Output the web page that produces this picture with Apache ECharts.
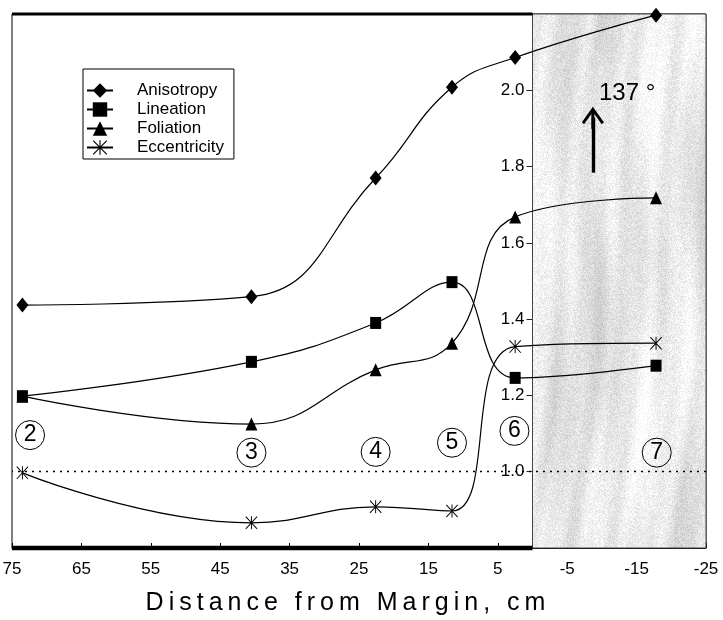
<!DOCTYPE html>
<html><head><meta charset="utf-8">
<script src="https://cdn.jsdelivr.net/npm/echarts@6/dist/echarts.min.js"></script>
<style>html,body{margin:0;padding:0;background:#fff}#c{width:723px;height:620px}</style>
</head><body><div id="c"></div>
<script>
// ---- data ----
const distances    = [73.5, 40.5, 22.6, 11.6, 2.5, -17.8];
const anisotropy   = [1.437, 1.459, 1.770, 2.008, 2.086, 2.197];
const lineation    = [1.198, 1.288, 1.390, 1.497, 1.246, 1.278];
const foliation    = [1.198, 1.125, 1.267, 1.337, 1.668, 1.718];
const eccentricity = [0.997, 0.866, 0.908, 0.897, 1.328, 1.337];
const siteLabels = ['2', '3', '4', '5', '6', '7'];
const siteX      = [72.4, 40.5, 22.6, 11.6, 2.6, -17.9];
const siteY      = [1.096, 1.050, 1.052, 1.076, 1.107, 1.050];
const seriesNames = ['Anisotropy', 'Lineation', 'Foliation', 'Eccentricity'];
const xTitle = 'Distance from Margin, cm';
const angleText = '137 °';

const FONT = '"Liberation Sans", Arial, sans-serif';

// letter-spaced axis title only (canvas letterSpacing, state saved/restored)
(function () {
  const orig = CanvasRenderingContext2D.prototype.fillText;
  CanvasRenderingContext2D.prototype.fillText = function (t, x, y, m) {
    if (t === xTitle && 'letterSpacing' in this) {
      this.save();
      this.letterSpacing = '5px';
      orig.call(this, t, x, y);
      this.restore();
      return;
    }
    return m === undefined ? orig.call(this, t, x, y) : orig.call(this, t, x, y, m);
  };
})();

function makeTexture(w, h) {
  const c = document.createElement('canvas'); c.width = w; c.height = h;
  const ctx = c.getContext('2d');
  const img = ctx.createImageData(w, h);
  const d = img.data;
  for (let y = 0; y < h; y++) {
    for (let x = 0; x < w; x++) {
      const xs = x + y * 0.06 + 6 * Math.sin(y * 0.013);
      let v = 232 + 6 * Math.sin(xs * 0.173) + 7 * Math.sin(xs * 0.047 + 1.3)
            + 4 * Math.sin(xs * 0.31 + y * 0.009) + 7 * Math.sin(y * 0.017 + xs * 0.029)
            + 5 * Math.sin(xs * 0.11 - y * 0.021);
      const hs = Math.sin(x * 12.9898 + y * 78.233) * 43758.5453;
      v += ((hs - Math.floor(hs)) - 0.5) * 34;
      v = Math.max(175, Math.min(255, v));
      const i = (y * w + x) * 4;
      d[i] = d[i + 1] = d[i + 2] = v; d[i + 3] = 255;
    }
  }
  ctx.putImageData(img, 0, 0);
  return c;
}

const asteriskPath = 'path://M9.2,0L10.8,0L10.8,20L9.2,20Z M0,1.1L1.1,0L20,18.9L18.9,20Z M18.9,0L20,1.1L1.1,20L0,18.9Z';
const arrowPath = 'path://M10,0L20,14L18,16L11.4,6.5L11.4,20L8.6,20L8.6,6.5L2,16L0,14Z';

const symbols = [
  { symbol: 'diamond', size: [12, 15] },
  { symbol: 'rect', size: [11, 12] },
  { symbol: 'triangle', size: [12, 13] },
  { symbol: asteriskPath, size: [12, 13] }
];
const values = [anisotropy, lineation, foliation, eccentricity];

const chart = echarts.init(document.getElementById('c'), null, { renderer: 'canvas' });

const lineSeries = seriesNames.map((name, k) => ({
  name, type: 'line', smooth: 0.45,
  data: distances.map((x, i) => [x, values[k][i]]),
  symbol: symbols[k].symbol, symbolSize: symbols[k].size,
  showAllSymbol: true,
  lineStyle: { color: '#000', width: 1.2 },
  itemStyle: { color: '#000', borderColor: '#000', borderWidth: 0 },
  z: 5 + k
}));

lineSeries[0].markArea = {
  silent: true,
  itemStyle: { color: { image: makeTexture(723, 620), repeat: 'repeat' }, opacity: 1, borderColor: '#444', borderWidth: 1 },
  data: [[{ xAxis: 0 }, { xAxis: -25 }]]
};
lineSeries[3].markLine = {
  silent: true, symbol: 'none', label: { show: false },
  lineStyle: { type: [2, 5], color: '#000', width: 1.4 },
  data: [{ yAxis: 1.0 }]
};
lineSeries[1].markLine = {
  silent: true, symbol: ['none', arrowPath], symbolSize: 22, label: { show: false },
  lineStyle: { type: 'solid', color: '#000', width: 3.4 },
  data: [[{ coord: [-8.7, 1.784] }, { coord: [-8.7, 1.928] }]]
};
lineSeries[1].markPoint = {
  silent: true,
  data: [{ coord: [-9.5, 1.992], symbol: 'circle', symbolSize: 1,
    itemStyle: { color: 'rgba(0,0,0,0)' },
    label: { show: true, position: 'right', distance: 0, formatter: angleText, fontSize: 24, color: '#000', fontFamily: FONT } }]
};

const frameSeries = [
  { name: 'frameTop', type: 'line', data: [[75, 2.2], [0, 2.2]], symbol: 'none', clip: false, silent: true,
    lineStyle: { color: '#000', width: 3 }, z: 20 },
  { name: 'frameBottom', type: 'line', data: [[75, 0.8], [0, 0.8]], symbol: 'none', clip: false, silent: true,
    lineStyle: { color: '#000', width: 4.5 }, z: 20 }
];

const siteSeries = {
  name: 'sites', type: 'scatter', silent: true,
  data: siteX.map((x, i) => [x, siteY[i], siteLabels[i]]),
  symbol: 'circle', symbolSize: 29,
  itemStyle: { color: 'rgba(255,255,255,0)', borderColor: '#000', borderWidth: 1, opacity: 1 },
  label: { show: true, position: 'inside', formatter: p => p.value[2], fontSize: 23, color: '#000', fontFamily: FONT },
  z: 4
};

chart.setOption({
  backgroundColor: '#fff',
  animation: false,
  textStyle: { fontFamily: FONT },
  grid: { left: 12, right: 17, top: 14, bottom: 72, show: true, borderColor: '#000', borderWidth: 1,
          backgroundColor: 'rgba(0,0,0,0)', outerBoundsMode: 'none' },
  legend: {
    orient: 'vertical', left: 83, top: 69,
    padding: [13, 10, 3, 3], itemGap: 2, itemWidth: 26, itemHeight: 18,
    borderColor: '#000', borderWidth: 1, backgroundColor: '#fff',
    textStyle: { fontSize: 17, color: '#000', fontFamily: FONT, padding: [0, 0, 0, 19] },
    data: seriesNames
  },
  xAxis: {
    type: 'value', inverse: true, min: -25, max: 75, interval: 10,
    name: xTitle, nameLocation: 'middle', nameGap: 43,
    nameTextStyle: { fontSize: 25, color: '#000', fontFamily: FONT, padding: [0, 22, 0, 0] },
    axisLine: { show: true, onZero: false, lineStyle: { color: '#000', width: 1 } },
    axisTick: { show: true, inside: true, length: 5, lineStyle: { color: '#000' } },
    axisLabel: { fontSize: 17, color: '#000', margin: 13, fontFamily: FONT },
    splitLine: { show: false }
  },
  yAxis: {
    type: 'value', min: 0.8, max: 2.2, interval: 0.2, position: 'left', offset: -520.5,
    axisLine: { show: true, onZero: false, lineStyle: { color: '#444', width: 1 } },
    axisTick: { show: true, inside: false, length: 6, lineStyle: { color: '#222' } },
    axisLabel: { show: true, fontSize: 17, color: '#000', margin: 8, fontFamily: FONT,
      formatter: function (v) { return (v < 0.99 || v > 2.01) ? '' : Number(v).toFixed(1); } },
    splitLine: { show: false }
  },
  series: [...lineSeries, ...frameSeries, siteSeries]
});
</script></body></html>
